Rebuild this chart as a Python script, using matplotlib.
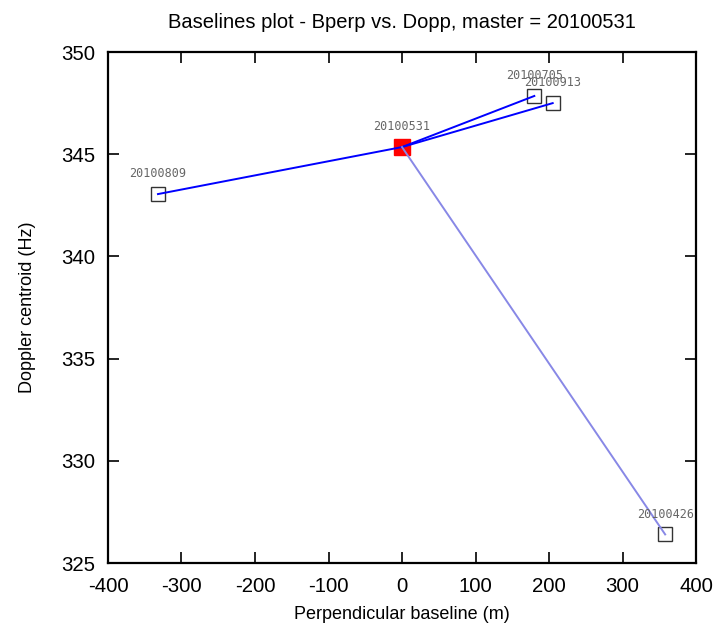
import matplotlib
matplotlib.use('Agg')
import matplotlib.pyplot as plt

# acquisitions: perpendicular baseline (m) and doppler centroid (Hz)
master_date = '20100531'
master_bperp = 0.0
master_dopp = 345.35

dates = ['20100809', '20100705', '20100913', '20100426']
bperp = [-332, 180, 205, 358]
dopp = [343.05, 347.85, 347.5, 326.4]
link_colors = ['#0000ff', '#0000ff', '#0000ff', '#8888e6']

plt.rcParams['font.family'] = ['Liberation Sans', 'DejaVu Sans']
plt.rcParams['axes.unicode_minus'] = False

fig = plt.figure(figsize=(7.18, 6.26), dpi=100)
ax = fig.add_axes([0.1504, 0.1006, 0.819, 0.8163])

# slave acquisitions
ax.plot(bperp, dopp, linestyle='none', marker='s', markersize=10,
        markerfacecolor='none', markeredgecolor='#333333', markeredgewidth=1.0, zorder=2)
ax.plot([master_bperp], [master_dopp], linestyle='none', marker='s', markersize=11,
        markerfacecolor='#ff0000', markeredgecolor='#ff0000', zorder=2)

# links to master
for b, d, c in zip(bperp, dopp, link_colors):
    ax.plot([master_bperp, b], [master_dopp, d], color=c, linewidth=1.4, zorder=3)

for name, b, d in zip(dates + [master_date], bperp + [master_bperp], dopp + [master_dopp]):
    ax.annotate(name, (b, d), xytext=(0, 10), textcoords='offset points',
                ha='center', va='bottom', fontsize=8.5, color='#666666',
                family='DejaVu Sans Mono')

ax.set_xlim(-400, 400)
ax.set_ylim(325, 350)
ax.set_xticks(range(-400, 401, 100))
ax.set_yticks(range(325, 351, 5))
ax.tick_params(direction='in', length=8, width=1.2, top=True, right=True,
               labelsize=14.7)
ax.tick_params(axis='x', pad=10)
ax.tick_params(axis='y', pad=9)
for s in ax.spines.values():
    s.set_linewidth(1.6)

ax.set_xlabel('Perpendicular baseline (m)', fontsize=13, labelpad=7)
ax.set_ylabel('Doppler centroid (Hz)', fontsize=13, labelpad=18)
ax.set_title('Baselines plot - Bperp vs. Dopp, master = 20100531', fontsize=14.5, pad=17)

fig.savefig('out.png', dpi=100)
